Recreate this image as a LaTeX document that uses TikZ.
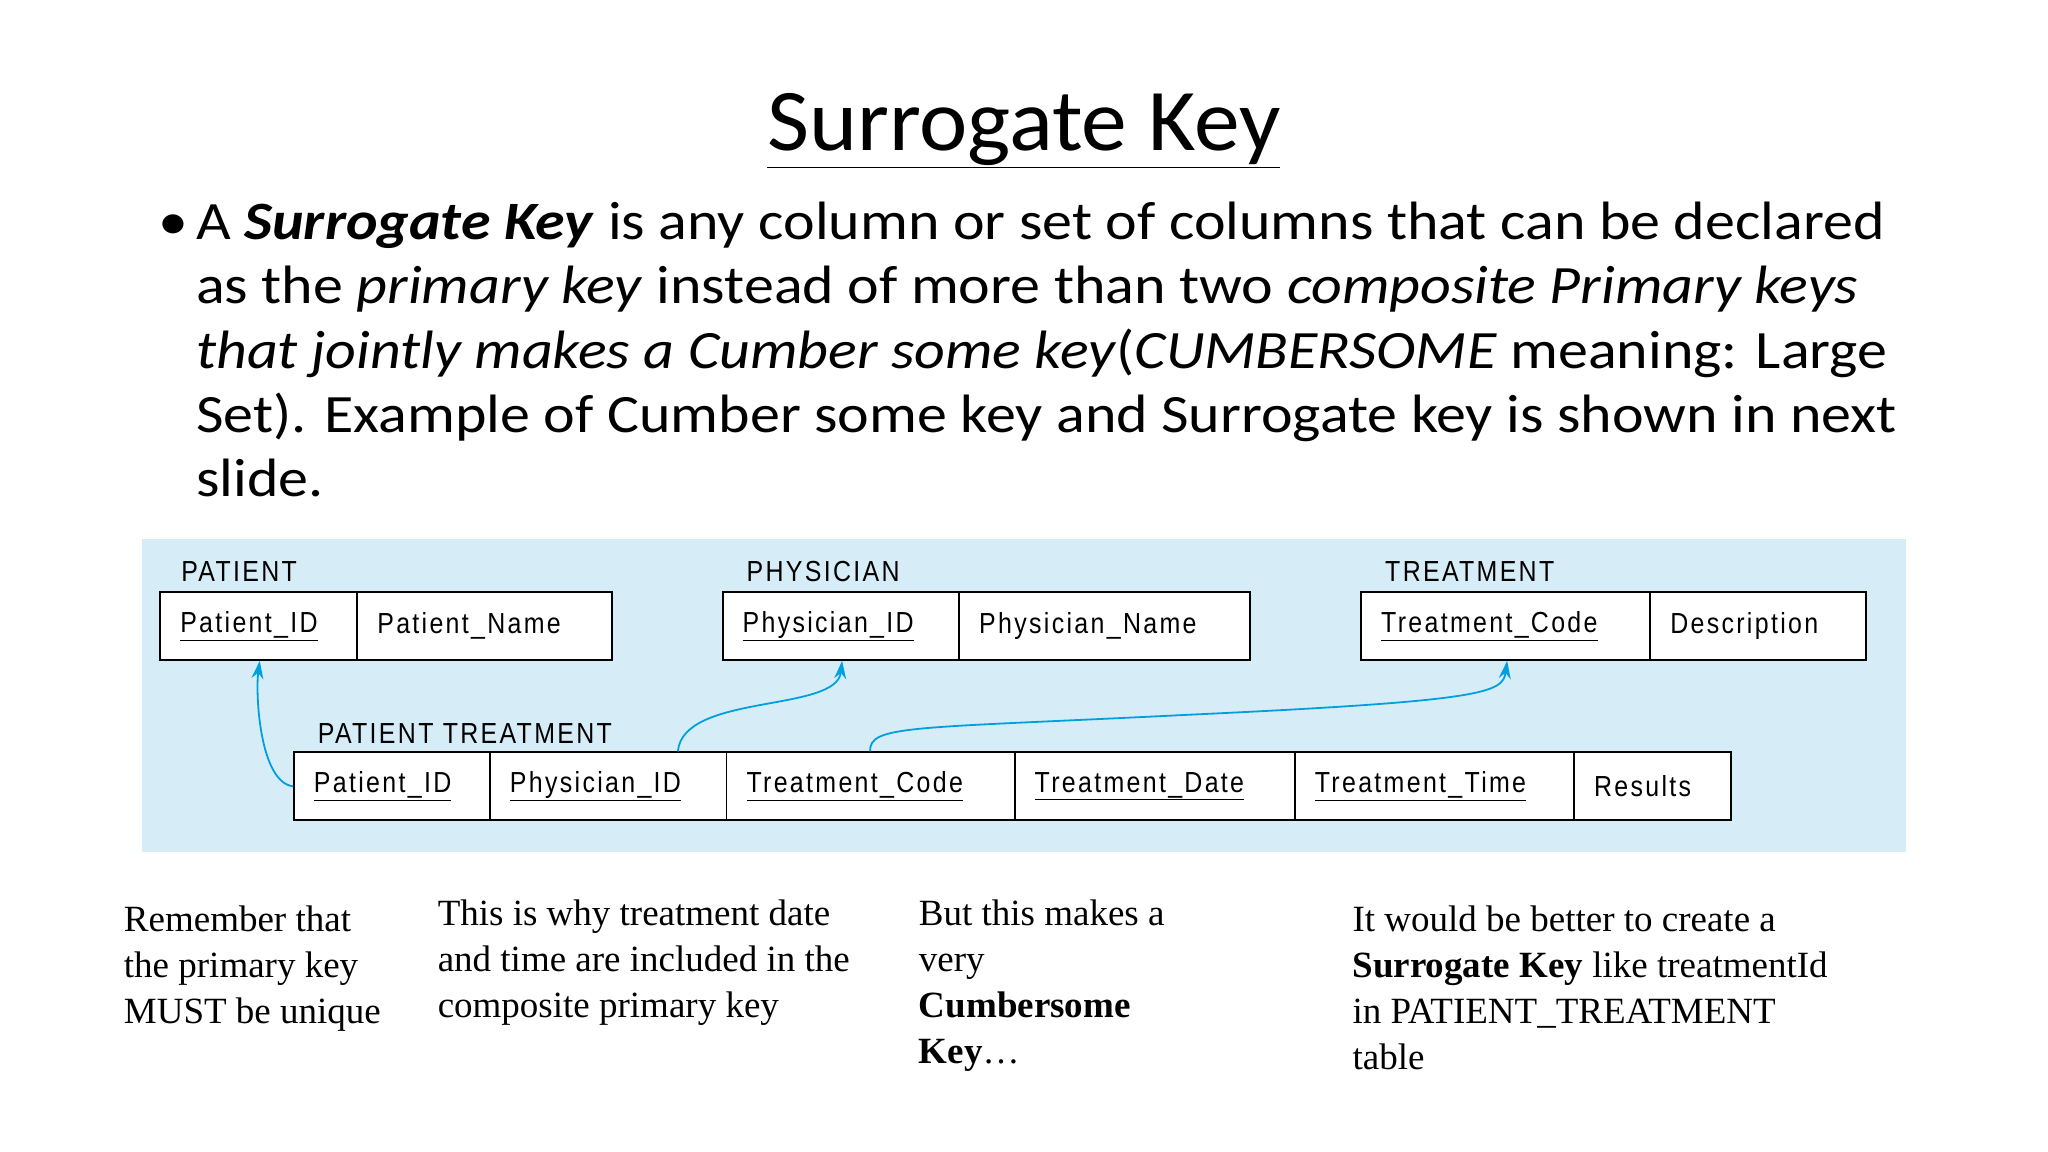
\documentclass[tikz,border=0pt]{standalone}
\usepackage{fontspec}
\setmainfont{Carlito}
\newfontfamily\bodyfont[FakeStretch=1.11]{Carlito}
\newfontfamily\titfont[FakeStretch=1.04]{Carlito}
\newfontfamily\tabfont[FakeStretch=0.86,LetterSpace=8]{Liberation Sans}
\newfontfamily\serfont{Liberation Serif}
\usetikzlibrary{arrows.meta}
\definecolor{bgblue}{RGB}{214,237,248}
\definecolor{arrblue}{RGB}{0,160,222}
\tikzset{
  cell/.style={draw=black,line width=1.8pt,fill=white,anchor=north west,minimum height=68pt,inner xsep=20pt,inner ysep=0pt,text width={#1-40pt},align=left,font=\tabfont\fontsize{29}{32}\selectfont},
  tlabel/.style={anchor=base west,inner sep=0pt,font=\tabfont\fontsize{29}{32}\selectfont},
  bline/.style={anchor=base west,inner sep=0pt,font=\bodyfont\fontsize{54}{64}\selectfont},
  note/.style={anchor=north west,inner sep=0pt,align=left,font=\serfont\fontsize{37}{46}\selectfont},
  fk/.style={draw=arrblue,line width=1.8pt,-{Stealth[length=18pt,width=12pt]}}
}
\newcommand{\ul}[1]{\underline{#1}}
\begin{document}
\begin{tikzpicture}[x=0.99pt,y=-0.99pt]
\useasboundingbox (0,0) rectangle (2068.7,1163.6);
\fill[white] (0,0) rectangle (2068.7,1163.6);
\node[anchor=base,inner sep=0pt,font=\titfont\fontsize{88}{94}\selectfont] (title) at (1034,152) {\underline{Surrogate Key}};
\node[bline] (bul) at (160,242) {•};
\node[bline] (l1) at (198,242) {A \textbf{\textit{Surrogate Key}} is any column or set of columns that can be declared};
\node[bline] (l2) at (198,307) {as the \textit{primary key} instead of more than two \textit{composite Primary keys}};
\node[bline] (l3) at (198,372) {\textit{that jointly makes a Cumber some key}(\textit{CUMBERSOME} meaning: Large};
\node[bline] (l4) at (198,437) {Set). Example of Cumber some key and Surrogate key is shown in next};
\node[bline] (l5) at (198,502) {slide.};
\fill[bgblue] (143,544) rectangle (1925,861);
% labels
\node[tlabel] (lp) at (183,587) {PATIENT};
\node[tlabel] (lph) at (754,587) {PHYSICIAN};
\node[tlabel] (lt) at (1399,587) {TREATMENT};
\node[tlabel] (lpt) at (321,751) {PATIENT TREATMENT};
% tables
\node[cell=199pt] (pid) at (161,597) {\ul{Patient\_ID}};
\node[cell=255pt] (pname) at (360,597) {Patient\_Name};
\node[cell=239pt] (phid) at (729,597) {\ul{Physician\_ID}};
\node[cell=291pt] (phname) at (968,597) {Physician\_Name};
\node[cell=292pt] (tc) at (1374,597) {\ul{Treatment\_Code}};
\node[cell=216pt] (desc) at (1666,597) {Description};
\node[cell=198pt] (ptpid) at (296,759) {\ul{Patient\_ID}};
\node[cell=239pt] (ptphid) at (494,759) {\ul{Physician\_ID}};
\node[cell=291pt] (pttc) at (733,759) {\ul{Treatment\_Code}};
\node[cell=283pt] (ptdate) at (1024,759) {\ul{Treatment\_Date}};
\node[cell=282pt] (pttime) at (1307,759) {\ul{Treatment\_Time}};
\node[cell=157pt] (res) at (1589,759) {Results};
% foreign keys
\draw[fk] (ptpid.west) .. controls (262,790) and (258,700) .. (pid.south);
\draw[fk] ([xshift=-52pt]ptphid.north east) .. controls (690,700) and (845,720) .. (phid.south);
\draw[fk] ([xshift=-2pt]pttc.north) .. controls (878,732) and (920,736) .. (1200,722) .. controls (1500,708) and (1518,700) .. (tc.south);
% notes
\node[note] (n1) at (125,915) {Remember that\\the primary key\\MUST be unique};
\node[note] (n2) at (442,909) {This is why treatment date\\and time are included in the\\composite primary key};
\node[note] (n3) at (928,909) {But this makes a\\very\\\textbf{Cumbersome}\\\textbf{Key}\ldots};
\node[note] (n4) at (1366,915) {It would be better to create a\\\textbf{Surrogate Key} like treatmentId\\in PATIENT\_TREATMENT\\table};
\end{tikzpicture}
\end{document}
